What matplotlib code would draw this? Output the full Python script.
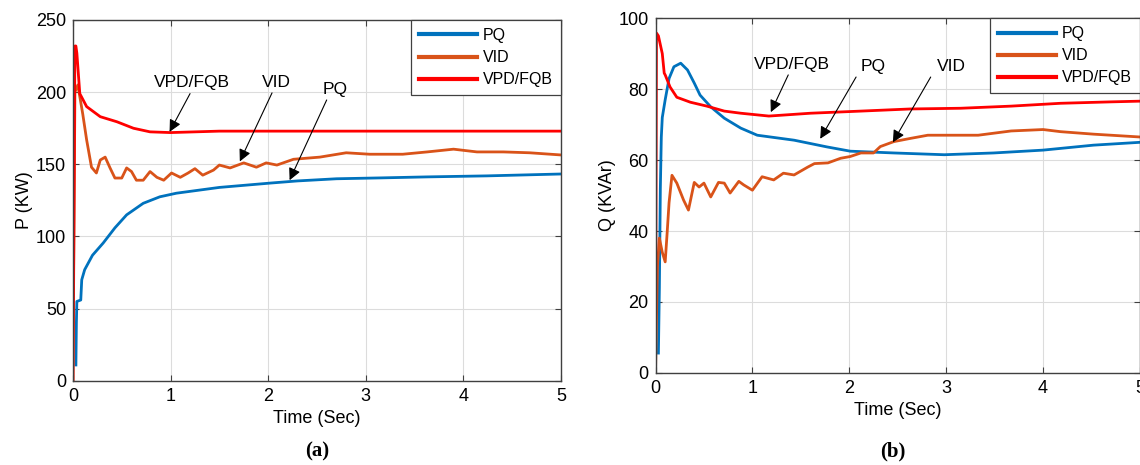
import matplotlib
matplotlib.use("Agg")
import matplotlib.pyplot as plt

# ---------------------------------------------------------------------------
# Data (time in s)
# ---------------------------------------------------------------------------
# (a) active power P (KW)
pq_p_t = [0.03, 0.035, 0.04, 0.08, 0.09, 0.12, 0.2, 0.31, 0.43, 0.55, 0.72, 0.89, 1.06,
          1.5, 2.02, 2.3, 2.7, 3.15, 3.63, 4.24, 5.0]
pq_p = [11, 40, 55, 56, 70, 77, 87, 95.5, 106, 115, 123, 127.5, 130,
        134, 137, 138.5, 140, 140.6, 141.3, 142, 143.3]

vid_p_t = [0.0, 0.02, 0.05, 0.1, 0.14, 0.19, 0.24, 0.28, 0.33, 0.38, 0.43, 0.5, 0.55, 0.6,
           0.65, 0.72, 0.79, 0.86, 0.93, 1.01, 1.1, 1.18, 1.25, 1.33, 1.44, 1.5, 1.61,
           1.75, 1.88, 1.98, 2.09, 2.26, 2.53, 2.8, 3.04, 3.38, 3.63, 3.9, 4.14, 4.41,
           4.68, 5.0]
vid_p = [0, 200, 205, 185, 167, 148, 144, 153, 155, 147.5, 140.5, 140.5, 147.5, 145,
         139, 139, 145, 141, 139, 144, 141, 144, 147, 142.5, 146, 149.5, 147.5,
         151, 148, 151, 149.5, 153.5, 155, 158, 157, 157, 158.6, 160.5, 158.6, 158.6,
         158, 156.5]

vpd_p_t = [0.0, 0.02, 0.03, 0.04, 0.07, 0.14, 0.28, 0.45, 0.62, 0.79, 1.0, 1.5, 2.0, 3.0,
           4.0, 5.0]
vpd_p = [0, 232, 232, 227, 199, 190, 183, 179.5, 175, 172.5, 172, 173, 173, 173,
         173, 173]

# (b) reactive power Q (KVAr)
pq_q_t = [0.03, 0.04, 0.05, 0.06, 0.07, 0.1, 0.14, 0.19, 0.26, 0.33, 0.4, 0.46, 0.57,
          0.71, 0.88, 1.05, 1.43, 1.77, 2.01, 2.46, 2.98, 3.49, 4.0, 4.52, 5.0]
pq_q = [5.6, 24, 52, 66.5, 72, 77, 83, 86.3, 87.3, 85.4, 81.7, 78.3, 75,
        71.8, 69, 67, 65.6, 63.7, 62.5, 62, 61.5, 62, 62.8, 64.2, 65]

vid_q_t = [0.0, 0.02, 0.04, 0.07, 0.1, 0.12, 0.14, 0.17, 0.22, 0.29, 0.34, 0.4, 0.45,
           0.5, 0.57, 0.65, 0.71, 0.77, 0.86, 0.91, 1.0, 1.1, 1.22, 1.32, 1.43, 1.57,
           1.64, 1.78, 1.91, 2.01, 2.12, 2.25, 2.32, 2.46, 2.63, 2.81, 2.98, 3.33,
           3.67, 4.0, 4.18, 4.52, 5.0]
vid_q = [0, 30, 38, 34, 31.3, 39.4, 48, 55.7, 53.5, 48.7, 45.9, 53.7, 52.4,
         53.5, 49.6, 53.7, 53.5, 50.7, 54, 53, 51.5, 55.3, 54.4, 56.3, 55.8, 58,
         59, 59.2, 60.5, 61, 62, 62, 63.8, 65.2, 66.1, 67, 67, 67,
         68.2, 68.6, 68, 67.3, 66.5]

vpd_q_t = [0.0, 0.01, 0.03, 0.07, 0.09, 0.1, 0.15, 0.22, 0.36, 0.53, 0.71, 0.88, 1.17,
           1.6, 2.12, 2.63, 3.15, 3.67, 4.18, 4.7, 5.0]
vpd_q = [0, 95.8, 95, 90, 84.5, 84, 80.6, 77.7, 76.3, 75.2, 73.8, 73.2, 72.4,
         73.2, 73.8, 74.4, 74.6, 75.2, 76, 76.4, 76.6]

series_names = ["PQ", "VID", "VPD/FQB"]
colors = ["#0072BD", "#D95319", "#FF0000"]

# annotation: (label, text pos, arrow tail, arrow head)
notes_a = [
    ("VPD/FQB", (1.22, 207), (1.2, 199), (0.99, 172.5)),
    ("VID", (2.09, 207), (2.04, 199.5), (1.71, 152)),
    ("PQ", (2.69, 201.5), (2.6, 194.6), (2.22, 139)),
]
notes_b = [
    ("VPD/FQB", (1.41, 87), (1.37, 84), (1.19, 73.5)),
    ("PQ", (2.25, 86.5), (2.07, 83.4), (1.7, 66)),
    ("VID", (3.05, 86.5), (2.84, 83.4), (2.45, 65)),
]

plt.rcParams["font.family"] = ["Liberation Sans", "DejaVu Sans"]

fig = plt.figure(figsize=(11.4, 4.65), dpi=100)
ax_a = fig.add_axes([0.064, 0.181, 0.428, 0.776])
ax_b = fig.add_axes([0.575, 0.198, 0.425, 0.763])


def style_axes(ax, ymax, ystep, ylabel):
    ax.set_xlim(0, 5)
    ax.set_ylim(0, ymax)
    ax.set_xticks(range(0, 6))
    ax.set_yticks(range(0, ymax + 1, ystep))
    ax.grid(True, color="#dcdcdc", lw=0.8)
    ax.set_axisbelow(True)
    ax.tick_params(direction="in", top=True, right=True, labelsize=13,
                   length=4, color="#404040", pad=5)
    for sp in ax.spines.values():
        sp.set_color("#404040")
        sp.set_linewidth(1.0)
    ax.set_xlabel("Time (Sec)", fontsize=13, labelpad=4)
    ax.set_ylabel(ylabel, fontsize=13, labelpad=2)


def draw_notes(ax, notes):
    for label, txt, tail, head in notes:
        ax.text(txt[0], txt[1], label, ha="center", va="center", fontsize=12.5)
        ax.annotate("", xy=head, xytext=tail,
                    arrowprops=dict(arrowstyle="-|>", color="k", lw=0.8,
                                    mutation_scale=18, shrinkA=0, shrinkB=0))


# (a)
ax_a.plot(pq_p_t, pq_p, color=colors[0], lw=2.0, label=series_names[0])
ax_a.plot(vid_p_t, vid_p, color=colors[1], lw=2.0, label=series_names[1])
ax_a.plot(vpd_p_t, vpd_p, color=colors[2], lw=2.0, label=series_names[2])
style_axes(ax_a, 250, 50, "P (KW)")
draw_notes(ax_a, notes_a)

# (b)
ax_b.plot(pq_q_t, pq_q, color=colors[0], lw=2.0, label=series_names[0])
ax_b.plot(vid_q_t, vid_q, color=colors[1], lw=2.0, label=series_names[1])
ax_b.plot(vpd_q_t, vpd_q, color=colors[2], lw=2.0, label=series_names[2])
style_axes(ax_b, 100, 20, "Q (KVAr)")
draw_notes(ax_b, notes_b)

for ax in (ax_a, ax_b):
    leg = ax.legend(loc="upper right", fontsize=11.5, handlelength=3.6,
                    handletextpad=0.4, labelspacing=0.45, borderpad=0.5,
                    borderaxespad=0, fancybox=False, framealpha=1)
    leg.get_frame().set_edgecolor("#404040")
    leg.get_frame().set_linewidth(0.9)
    for ln in leg.get_lines():
        ln.set_linewidth(3)

fig.text(0.278, 0.028, "(a)", ha="center", va="center", fontsize=15,
         fontweight="bold", family="Liberation Serif")
fig.text(0.783, 0.028, "(b)", ha="center", va="center", fontsize=15,
         fontweight="bold", family="Liberation Serif")

fig.savefig("out.png", dpi=100)
